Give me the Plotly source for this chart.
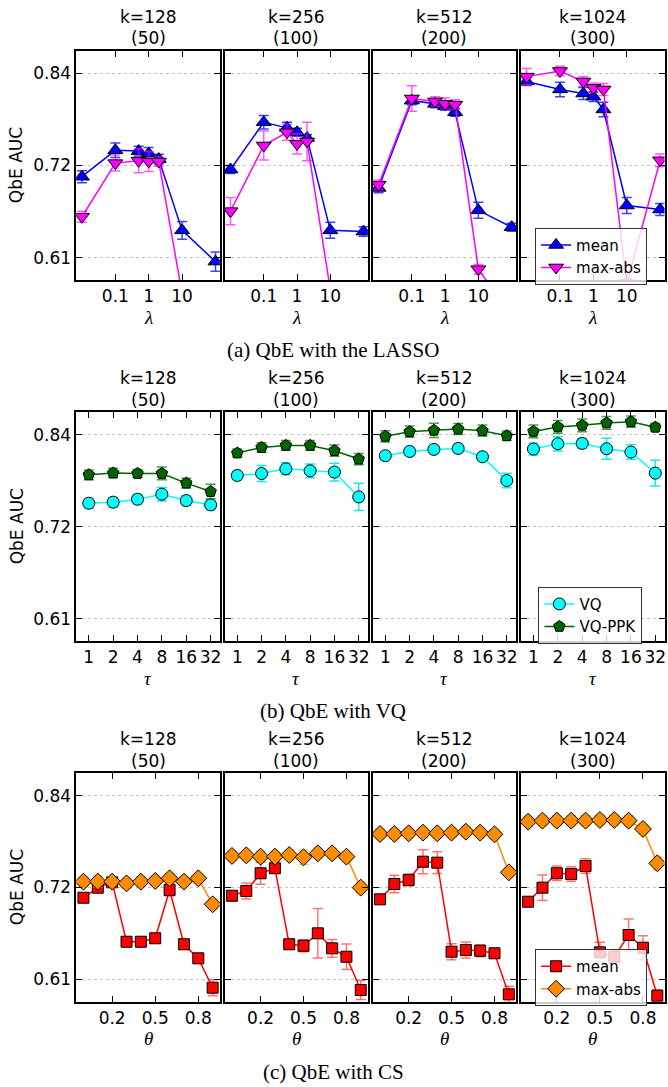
import plotly.graph_objects as go

W, H = 668, 1087

# ---------------- data ----------------
k_titles = ["k=128", "k=256", "k=512", "k=1024"]
k_subtitles = ["(50)", "(100)", "(200)", "(300)"]

lam = [0.01, 0.1, 0.5, 1, 2, 10, 100]
lam_ticks = [0.1, 1, 10]
lam_ticktext = ["0.1", "1", "10"]

lasso_mean = [
    [0.711, 0.744, 0.743, 0.740, 0.733, 0.644, 0.605],
    [0.720, 0.779, 0.772, 0.7665, 0.7595, 0.644, 0.6425],
    [0.697, 0.806, 0.802, 0.799, 0.7915, 0.669, 0.648],
    [0.830, 0.820, 0.815, 0.811, 0.795, 0.675, 0.670],
]
lasso_mean_err = [
    [0.0075, 0.009, 0.006, 0.0075, 0.006, 0.011, 0.012],
    [0.005, 0.0085, 0.007, 0.005, 0.004, 0.010, 0.006],
    [0.006, 0.005, 0.005, 0.005, 0.005, 0.010, 0.005],
    [0.005, 0.009, 0.0075, 0.006, 0.009, 0.010, 0.0075],
]
lasso_maxabs = [
    [0.661, 0.728, 0.731, 0.730, 0.730, 0.565, 0.550],
    [0.668, 0.750, 0.7665, 0.752, 0.755, 0.570, 0.550],
    [0.701, 0.8087, 0.805, 0.802, 0.801, 0.5955, 0.537],
    [0.836, 0.843, 0.830, 0.822, 0.820, 0.578, 0.7315],
]
lasso_maxabs_err = [
    [0.007, 0.010, 0.015, 0.0125, 0.006, 0.006, 0.006],
    [0.017, 0.018, 0.010, 0.0125, 0.024, 0.008, 0.008],
    [0.006, 0.016, 0.006, 0.0075, 0.006, 0.006, 0.006],
    [0.010, 0.006, 0.006, 0.006, 0.0075, 0.006, 0.008],
]

tau = [1, 2, 4, 8, 16, 32]
tau_ticktext = ["1", "2", "4", "8", "16", "32"]

vq = [
    [0.7543, 0.7556, 0.7593, 0.7656, 0.7576, 0.7522],
    [0.789, 0.7914, 0.7973, 0.7948, 0.7932, 0.7622],
    [0.8137, 0.819, 0.8216, 0.8228, 0.8124, 0.7827],
    [0.822, 0.8287, 0.8291, 0.8224, 0.8183, 0.7919],
]
vq_err = [
    [0.006, 0.006, 0.006, 0.0085, 0.006, 0.006],
    [0.005, 0.010, 0.0075, 0.0085, 0.011, 0.017],
    [0.005, 0.005, 0.005, 0.005, 0.005, 0.009],
    [0.0075, 0.009, 0.006, 0.013, 0.009, 0.016],
]
vq_ppk = [
    [0.7898, 0.792, 0.7915, 0.7915, 0.7794, 0.7689],
    [0.817, 0.824, 0.8266, 0.8266, 0.820, 0.8095],
    [0.838, 0.8438, 0.8454, 0.8471, 0.845, 0.8387],
    [0.8441, 0.8497, 0.8517, 0.8547, 0.8563, 0.8492],
]
vq_ppk_err = [
    [0.006, 0.006, 0.005, 0.008, 0.006, 0.009],
    [0.005, 0.006, 0.006, 0.006, 0.007, 0.007],
    [0.007, 0.007, 0.009, 0.007, 0.007, 0.006],
    [0.008, 0.008, 0.008, 0.008, 0.007, 0.005],
]

theta = [0.0, 0.1, 0.2, 0.3, 0.4, 0.5, 0.6, 0.7, 0.8, 0.9]
theta_ticks = [0.2, 0.5, 0.8]
theta_ticktext = ["0.2", "0.5", "0.8"]

cs_mean = [
    [0.7122, 0.7248, 0.7315, 0.6571, 0.6571, 0.6614, 0.7219, 0.6539, 0.6363, 0.5995],
    [0.7147, 0.7206, 0.7428, 0.7491, 0.6539, 0.6521, 0.6676, 0.6488, 0.6383, 0.5966],
    [0.7102, 0.7294, 0.7344, 0.7573, 0.7561, 0.6446, 0.6467, 0.6458, 0.6426, 0.5912],
    [0.7072, 0.7248, 0.7428, 0.7419, 0.7519, 0.6438, 0.6383, 0.6655, 0.6496, 0.5895],
]
cs_mean_err = [
    [0.005, 0.005, 0.005, 0.006, 0.006, 0.006, 0.0075, 0.006, 0.006, 0.010],
    [0.005, 0.010, 0.0137, 0.006, 0.006, 0.0075, 0.031, 0.011, 0.016, 0.012],
    [0.005, 0.011, 0.0075, 0.015, 0.0137, 0.010, 0.010, 0.0075, 0.006, 0.010],
    [0.005, 0.016, 0.009, 0.009, 0.009, 0.0125, 0.0075, 0.020, 0.015, 0.0075],
]
cs_maxabs = [
    [0.7323, 0.7323, 0.7323, 0.7302, 0.7323, 0.7332, 0.7365, 0.7323, 0.7365, 0.704],
    [0.7645, 0.7653, 0.7636, 0.7636, 0.7657, 0.7628, 0.7678, 0.7678, 0.7636, 0.7248],
    [0.792, 0.792, 0.7929, 0.7937, 0.7929, 0.7937, 0.7949, 0.7937, 0.7916, 0.744],
    [0.8074, 0.8087, 0.8087, 0.8087, 0.8087, 0.8096, 0.8096, 0.8087, 0.7983, 0.7553],
]
cs_maxabs_err = [
    [0.006, 0.007, 0.006, 0.006, 0.006, 0.006, 0.006, 0.006, 0.006, 0.006],
    [0.006, 0.006, 0.007, 0.006, 0.006, 0.009, 0.006, 0.006, 0.006, 0.006],
    [0.006, 0.006, 0.006, 0.006, 0.006, 0.006, 0.006, 0.006, 0.006, 0.006],
    [0.006, 0.006, 0.006, 0.006, 0.006, 0.006, 0.006, 0.006, 0.006, 0.008],
]

y_ticks = [0.61, 0.725, 0.84]
y_ticktext = ["0.61", "0.72", "0.84"]
y_range = [0.582, 0.868]

captions = ["(a) QbE with the LASSO", "(b) QbE with VQ", "(c) QbE with CS"]
x_titles = ["λ", "τ", "θ"]

# ---------------- layout geometry (pixels) ----------------
col_x = [(76.5, 220.5), (225.5, 369.0), (374.0, 517.5), (522.5, 666.5)]
row_y = [(51.0, 280.0), (412.3, 641.0), (773.3, 1001.7)]


def fx(p):
    return p / W


def fy(p):
    return 1 - p / H


TICKFONT = dict(family="DejaVu Sans", size=17, color="black")

fig = go.Figure()

series = [
    (lam, [
        (lasso_mean, lasso_mean_err, "mean", "#0000ff", "rgba(0,0,255,0.75)", "triangle-up", 13),
        (lasso_maxabs, lasso_maxabs_err, "max-abs", "#ff00ff", "rgba(255,0,255,0.65)", "triangle-down", 13),
    ]),
    (tau, [
        (vq, vq_err, "VQ", "#00ffff", "rgba(0,230,230,0.9)", "circle", 12),
        (vq_ppk, vq_ppk_err, "VQ-PPK", "#006400", "rgba(0,110,0,0.7)", "pentagon", 12),
    ]),
    (theta, [
        (cs_mean, cs_mean_err, "mean", "#ff0000", "rgba(255,0,0,0.55)", "square", 11),
        (cs_maxabs, cs_maxabs_err, "max-abs", "#ff8c00", "rgba(255,140,0,0.6)", "diamond", 13),
    ]),
]
legend_names = ["legend", "legend2", "legend3"]

annotations = []
for r in range(3):
    xs, sers = series[r]
    for c in range(4):
        i = r * 4 + c + 1
        sfx = "" if i == 1 else str(i)
        for vals, errs, name, color, ecolor, sym, msize in sers:
            fig.add_trace(go.Scatter(
                x=xs, y=vals[c],
                error_y=dict(type="data", array=errs[c], color=ecolor,
                             thickness=1.5, width=5),
                mode="lines+markers",
                line=dict(color=color, width=1.5),
                marker=dict(symbol=sym, size=msize, color=color,
                            line=dict(color="black", width=1)),
                name=name,
                xaxis="x" + sfx, yaxis="y" + sfx,
                showlegend=(c == 3),
                legend=legend_names[r],
            ))

        x0, x1 = col_x[c]
        y0, y1 = row_y[r]
        xax = dict(
            domain=[fx(x0), fx(x1)], anchor="y" + sfx,
            showline=True, linecolor="black", linewidth=1.5, mirror="allticks",
            ticks="inside", ticklen=6, tickwidth=1, tickcolor="black",
            showgrid=False, zeroline=False, tickfont=TICKFONT,
        )
        if r == 0:
            xax.update(type="log", range=[-2.17, 2.13],
                       tickvals=lam_ticks, ticktext=lam_ticktext)
        elif r == 1:
            xax.update(type="log", range=[-0.1545, 1.619],
                       tickvals=tau, ticktext=tau_ticktext)
        else:
            xax.update(range=[-0.05, 0.95],
                       tickvals=theta_ticks, ticktext=theta_ticktext)
        yax = dict(
            domain=[fy(y1), fy(y0)], anchor="x" + sfx, range=y_range,
            showline=True, linecolor="black", linewidth=1.5, mirror="allticks",
            ticks="inside", ticklen=6, tickwidth=1, tickcolor="black",
            tickvals=y_ticks, ticktext=y_ticktext,
            showticklabels=(c == 0),
            showgrid=True, gridcolor="#c4c4c4", griddash="dot", gridwidth=1,
            zeroline=False, tickfont=TICKFONT,
        )
        fig.update_layout({"xaxis" + sfx: xax, "yaxis" + sfx: yax})

        xc = fx((x0 + x1) / 2)
        annotations.append(dict(text=k_titles[c], x=xc, y=fy(y0 - 34),
                                xref="paper", yref="paper", showarrow=False,
                                xanchor="center", yanchor="middle",
                                font=dict(family="DejaVu Sans", size=17, color="black")))
        annotations.append(dict(text=k_subtitles[c], x=xc, y=fy(y0 - 12.5),
                                xref="paper", yref="paper", showarrow=False,
                                xanchor="center", yanchor="middle",
                                font=dict(family="DejaVu Sans", size=17, color="black")))
        annotations.append(dict(text=x_titles[r], x=xc, y=fy(y1 + 37),
                                xref="paper", yref="paper", showarrow=False,
                                xanchor="center", yanchor="middle",
                                font=dict(family="Liberation Serif", size=19, color="black",
                                          style="italic")))
    annotations.append(dict(text="QbE AUC", x=fx(16.7), y=fy((row_y[r][0] + row_y[r][1]) / 2),
                            xref="paper", yref="paper", showarrow=False, textangle=-90,
                            xanchor="center", yanchor="middle",
                            font=dict(family="DejaVu Sans", size=17, color="black")))
    annotations.append(dict(text=captions[r], x=0.5, y=fy(row_y[r][0] + 299),
                            xref="paper", yref="paper", showarrow=False,
                            xanchor="center", yanchor="middle",
                            font=dict(family="Liberation Serif", size=21, color="black")))

leg_common = dict(xanchor="left", yanchor="top", bgcolor="rgba(255,255,255,0.8)",
                  bordercolor="#333333", borderwidth=1,
                  font=dict(family="DejaVu Sans", size=15, color="black"),
                  tracegroupgap=0, itemwidth=30)
fig.update_layout(
    width=W, height=H,
    margin=dict(l=0, r=0, t=0, b=0),
    paper_bgcolor="white", plot_bgcolor="white",
    annotations=annotations,
    legend=dict(x=fx(536.7), y=fy(227.7), **leg_common),
    legend2=dict(x=fx(540), y=fy(586.7), **leg_common),
    legend3=dict(x=fx(536.7), y=fy(949), **leg_common),
)

fig.write_html("out.html")
